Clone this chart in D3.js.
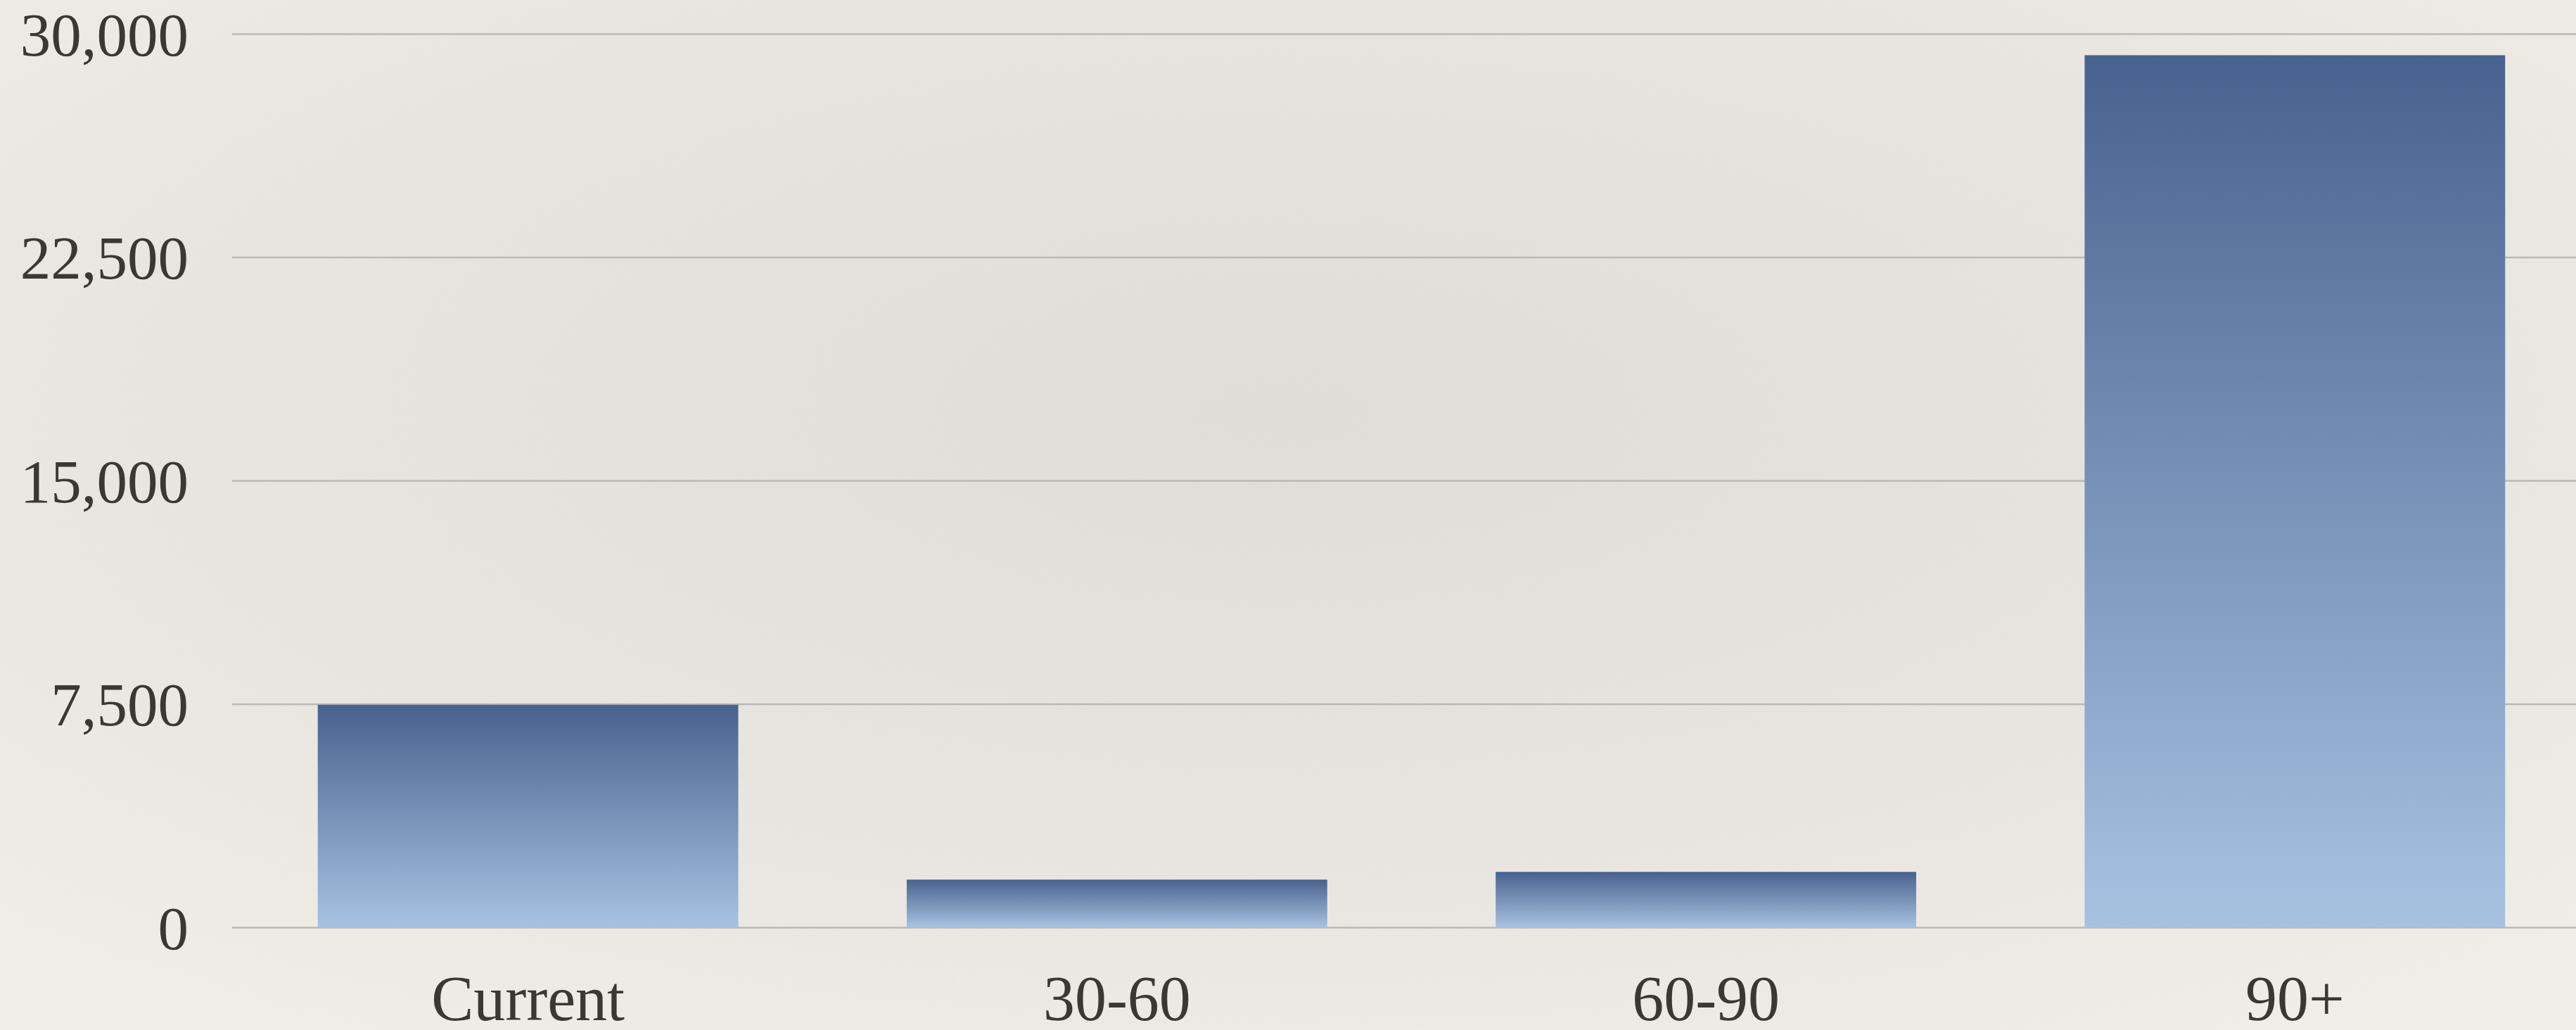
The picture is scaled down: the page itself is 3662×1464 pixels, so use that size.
<!DOCTYPE html>
<html lang="en">
    <head>
        <meta charset="utf-8">
        <title>Aging buckets</title>
        <script type="text/javascript" src="https://d3js.org/d3.v7.min.js"></script>
        <style type="text/css">
            html, body {
                margin: 0;
                padding: 0;
                overflow: hidden;
                background: #efece6;
            }

            .axis text {
                font-family: Palatino, "Palatino Linotype", "Book Antiqua", "Liberation Serif", serif;
                font-size: 90px;
                fill: #3a3833;
            }

            .y.axis text {
                font-size: 87px;
            }

            .axis line {
                stroke: #bab9b6;
                stroke-width: 2.5px;
            }
        </style>
    </head>
    <body>
        <script type="text/javascript">

            // Data
            var categories = ["Current", "30-60", "60-90", "90+"];
            var values = [7470, 1600, 1860, 29280];
            var yTicks = [0, 7500, 15000, 22500, 30000];

            // Size
            var w = 3662;
            var h = 1464;
            var gridLeft = 330;   // where the grid starts
            var plotTop = 48;     // 30,000 line ("top" is taken by window.top)
            var base = 1318;      // 0 line

            var svg = d3.select("body")
                        .append("svg")
                        .attr("width", w)
                        .attr("height", h);

            var defs = svg.append("defs");

            // paper background: lighter at the edges, a bit darker in the middle
            var bg = defs.append("radialGradient")
                         .attr("id", "paper")
                         .attr("cx", "50%").attr("cy", "40%").attr("r", "75%");
            bg.append("stop").attr("offset", "0%").attr("stop-color", "#e2dfda");
            bg.append("stop").attr("offset", "60%").attr("stop-color", "#ebe8e3");
            bg.append("stop").attr("offset", "100%").attr("stop-color", "#f4f1eb");

            // grain
            var grain = defs.append("filter").attr("id", "grain");
            grain.append("feTurbulence")
                 .attr("type", "fractalNoise")
                 .attr("baseFrequency", 0.9)
                 .attr("numOctaves", 3)
                 .attr("seed", 4);
            grain.append("feColorMatrix")
                 .attr("type", "matrix")
                 .attr("values", "0 0 0 0 0.45  0 0 0 0 0.43  0 0 0 0 0.40  0 0 0 0.09 0");

            // bar fill, dark blue on top to light blue at the bottom
            var barGrad = defs.append("linearGradient")
                              .attr("id", "barFill")
                              .attr("x1", 0).attr("y1", 0)
                              .attr("x2", 0).attr("y2", 1);
            barGrad.append("stop").attr("offset", "0%").attr("stop-color", "#48628f");
            barGrad.append("stop").attr("offset", "100%").attr("stop-color", "#a7c2e1");

            svg.append("rect")
               .attr("width", w).attr("height", h)
               .attr("fill", "url(#paper)");
            svg.append("rect")
               .attr("width", w).attr("height", h)
               .attr("filter", "url(#grain)");

            // Scales
            var xScale = d3.scaleBand()
                           .domain(categories)
                           .range([332, 3681])
                           .paddingInner(0.286)
                           .paddingOuter(0.143);

            var yScale = d3.scaleLinear()
                           .domain([0, 30000])
                           .range([base, plotTop]);

            // Axes
            var yAxis = d3.axisLeft(yScale)
                          .tickValues(yTicks)
                          .tickFormat(d3.format(","))
                          .tickSizeInner(-(w - gridLeft))
                          .tickSizeOuter(0)
                          .tickPadding(62);

            var xAxis = d3.axisBottom(xScale)
                          .tickSize(0)
                          .tickPadding(68);

            var gy = svg.append("g")
                        .attr("class", "y axis")
                        .attr("transform", "translate(" + gridLeft + ",0)")
                        .call(yAxis);
            gy.select(".domain").remove();
            gy.selectAll("text").attr("dy", "0.35em");

            // Bars
            svg.selectAll("rect.bar")
               .data(values)
               .enter()
               .append("rect")
               .attr("class", "bar")
               .attr("x", function(d, i) { return xScale(categories[i]); })
               .attr("y", function(d) { return yScale(d); })
               .attr("width", xScale.bandwidth())
               .attr("height", function(d) { return base - yScale(d); })
               .attr("fill", "url(#barFill)");

            var gx = svg.append("g")
                        .attr("class", "x axis")
                        .attr("transform", "translate(0," + base + ")")
                        .call(xAxis);
            gx.select(".domain").remove();

        </script>
    </body>
</html>
